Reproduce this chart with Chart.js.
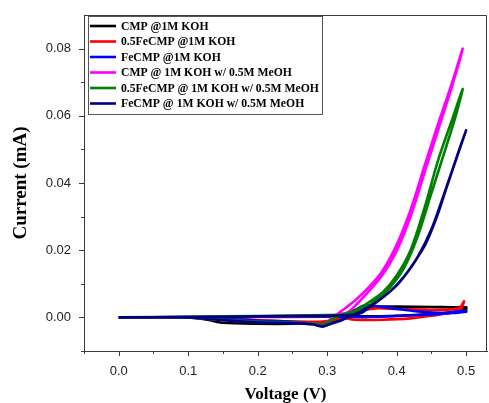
<!DOCTYPE html>
<html>
<head>
<meta charset="utf-8">
<script src="https://cdn.jsdelivr.net/npm/chart.js@4.4.1/dist/chart.umd.min.js"></script>
<style>
  html, body { margin: 0; padding: 0; background: #ffffff; }
  #wrap { width: 489px; height: 403px; position: relative; }
</style>
</head>
<body>
<div id="wrap"><canvas id="c" width="489" height="403"></canvas></div>
<script>
// ---- Data ----
const seriesNames = [
  "CMP @1M KOH",
  "0.5FeCMP @1M KOH",
  "FeCMP @1M KOH",
  "CMP @ 1M KOH w/ 0.5M MeOH",
  "0.5FeCMP @ 1M KOH w/ 0.5M MeOH",
  "FeCMP @ 1M KOH w/ 0.5M MeOH"
];
const seriesColors = ["#000000", "#ff0000", "#0000ff", "#ff00ff", "#008000", "#000080"];

// CMP @1M KOH (voltage V, current mA)
const cmpV = [0.00,0.05,0.10,0.15,0.20,0.25,0.30,0.33,0.36,0.40,0.45,0.48,0.50,0.50,0.48,0.45,0.40,0.36,0.35,0.34,0.33,0.32,0.31,0.29,0.25,0.20,0.15,0.13,0.11,0.10,0.05,0.00];
const cmpI = [0.0000,0.0000,0.0000,0.0001,0.0002,0.0003,0.0004,0.0004,0.0003,0.0005,0.0010,0.0015,0.0025,0.0030,0.0030,0.0031,0.0032,0.0032,0.0030,0.0022,0.0012,0.0002,-0.0008,-0.0016,-0.0019,-0.0019,-0.0016,-0.0008,-0.0002,0.0000,0.0000,0.0000];

// 0.5FeCMP @1M KOH
const feHalfV = [0.00,0.10,0.20,0.30,0.32,0.34,0.38,0.42,0.45,0.47,0.49,0.497,0.49,0.47,0.44,0.40,0.37,0.35,0.33,0.31,0.29,0.25,0.20,0.15,0.10,0.05,0.00];
const feHalfI = [0.0000,0.0000,0.0001,0.0002,0.0000,-0.0007,-0.0007,-0.0003,0.0005,0.0012,0.0020,0.0048,0.0028,0.0023,0.0023,0.0025,0.0027,0.0021,0.0006,-0.0008,-0.0013,-0.0012,-0.0009,-0.0004,0.0000,0.0000,0.0000];

// FeCMP @1M KOH
const feV = [0.00,0.10,0.20,0.30,0.33,0.36,0.40,0.45,0.48,0.50,0.50,0.47,0.44,0.41,0.38,0.36,0.35,0.34,0.33,0.32,0.305,0.293,0.28,0.25,0.20,0.15,0.12,0.10,0.05,0.00];
const feI = [0.0000,0.0001,0.0002,0.0003,0.0002,0.0001,0.0004,0.0009,0.0013,0.0017,0.0020,0.0014,0.0016,0.0023,0.0031,0.0036,0.0033,0.0018,0.0002,-0.0009,-0.0019,-0.0027,-0.0019,-0.0013,-0.0009,-0.0004,-0.0001,0.0000,0.0000,0.0000];

// CMP @ 1M KOH w/ 0.5M MeOH
const cmpMeV = [0.00,0.10,0.20,0.30,0.32,0.33,0.34,0.36,0.38,0.40,0.42,0.44,0.46,0.48,0.495,0.48,0.46,0.44,0.42,0.40,0.38,0.36,0.34,0.32,0.305,0.293,0.28,0.25,0.20,0.15,0.10,0.00];
const cmpMeI = [0.0000,0.0001,0.0003,0.0006,0.0010,0.0016,0.0034,0.0078,0.0128,0.0198,0.0300,0.0430,0.0560,0.0690,0.0800,0.0700,0.0578,0.0450,0.0320,0.0216,0.0140,0.0090,0.0050,0.0018,-0.0005,-0.0022,-0.0018,-0.0016,-0.0014,-0.0008,0.0000,0.0000];

// 0.5FeCMP @ 1M KOH w/ 0.5M MeOH
const feHalfMeV = [0.00,0.10,0.20,0.30,0.33,0.35,0.37,0.39,0.41,0.43,0.45,0.47,0.485,0.495,0.48,0.46,0.44,0.42,0.40,0.38,0.36,0.34,0.32,0.305,0.293,0.28,0.25,0.20,0.15,0.10,0.00];
const feHalfMeI = [0.0000,0.0002,0.0004,0.0007,0.0009,0.0022,0.0050,0.0088,0.0145,0.0240,0.0370,0.0500,0.0600,0.0680,0.0590,0.0470,0.0325,0.0200,0.0125,0.0075,0.0045,0.0020,0.0008,-0.0008,-0.0022,-0.0018,-0.0015,-0.0013,-0.0007,0.0000,0.0000];

// FeCMP @ 1M KOH w/ 0.5M MeOH
const feMeV = [0.00,0.10,0.20,0.30,0.33,0.35,0.36,0.38,0.40,0.42,0.44,0.45,0.46,0.47,0.48,0.49,0.50,0.49,0.47,0.45,0.43,0.41,0.39,0.37,0.35,0.33,0.31,0.293,0.28,0.25,0.20,0.15,0.10,0.00];
const feMeI = [0.0000,0.0001,0.0003,0.0005,0.0007,0.0014,0.0029,0.0059,0.0095,0.0148,0.0212,0.0258,0.0312,0.0375,0.0437,0.0497,0.0557,0.0499,0.0378,0.0262,0.0179,0.0120,0.0076,0.0044,0.0020,0.0000,-0.0015,-0.0027,-0.0021,-0.0017,-0.0015,-0.0008,0.0000,0.0000];

const seriesV = [cmpV, feHalfV, feV, cmpMeV, feHalfMeV, feMeV];
const seriesI = [cmpI, feHalfI, feI, cmpMeI, feHalfMeI, feMeI];

// Tick labels / tick positions
const xMajorTicks = [0.0, 0.1, 0.2, 0.3, 0.4, 0.5];
const xMinorTicks = [-0.05, 0.05, 0.15, 0.25, 0.35, 0.45];
const yMajorTicks = [0.00, 0.02, 0.04, 0.06, 0.08];
const yMinorTicks = [-0.01, 0.01, 0.03, 0.05, 0.07];

const xTitle = "Voltage (V)";
const yTitle = "Current (mA)";

// ---- Chart ----
const datasets = seriesNames.map((name, i) => ({
  label: name,
  data: seriesV[i].map((v, k) => ({ x: v, y: seriesI[i][k] })),
  borderColor: seriesColors[i],
  backgroundColor: seriesColors[i],
  borderWidth: 2.6,
  pointRadius: 0,
  showLine: true,
  tension: 0.3,
  fill: false,
  order: seriesNames.length - i
}));

const axisColor = "#3a3a3a";

const framePlugin = {
  id: "frameTicksLegend",
  afterDraw(chart) {
    const ctx = chart.ctx;
    const a = chart.chartArea;
    const xs = chart.scales.x, ys = chart.scales.y;
    ctx.save();
    // frame (top & right)
    ctx.strokeStyle = axisColor;
    ctx.lineWidth = 1;
    ctx.beginPath();
    ctx.moveTo(a.left, a.top + 0.5);
    ctx.lineTo(a.right - 0.5, a.top + 0.5);
    ctx.lineTo(a.right - 0.5, a.bottom);
    ctx.stroke();
    // ticks
    ctx.beginPath();
    xMajorTicks.forEach(v => { const p = Math.round(xs.getPixelForValue(v)) + 0.5; ctx.moveTo(p, a.bottom); ctx.lineTo(p, a.bottom + 5); });
    xMinorTicks.forEach(v => { const p = Math.round(xs.getPixelForValue(v)) + 0.5; ctx.moveTo(p, a.bottom); ctx.lineTo(p, a.bottom + 3); });
    yMajorTicks.forEach(v => { const p = Math.round(ys.getPixelForValue(v)) + 0.5; ctx.moveTo(a.left, p); ctx.lineTo(a.left - 5, p); });
    yMinorTicks.forEach(v => { const p = Math.round(ys.getPixelForValue(v)) + 0.5; ctx.moveTo(a.left, p); ctx.lineTo(a.left - 3, p); });
    ctx.stroke();

    // legend box
    const lx = 88, ly = 16, lw = 234, lh = 98;
    ctx.fillStyle = "#ffffff";
    ctx.fillRect(lx, ly, lw, lh);
    ctx.strokeStyle = "#555555";
    ctx.lineWidth = 1;
    ctx.strokeRect(lx + 0.5, ly + 0.5, lw, lh);
    ctx.font = "bold 11.7px 'Liberation Serif', 'Times New Roman', serif";
    ctx.textBaseline = "middle";
    ctx.textAlign = "left";
    seriesNames.forEach((name, i) => {
      const y = 26 + i * 15.5;
      ctx.strokeStyle = seriesColors[i];
      ctx.lineWidth = 2.6;
      ctx.beginPath();
      ctx.moveTo(90, y);
      ctx.lineTo(116, y);
      ctx.stroke();
      ctx.fillStyle = "#000000";
      ctx.fillText(name, 121, y + 0.5);
    });
    ctx.restore();
  }
};

new Chart(document.getElementById("c"), {
  type: "scatter",
  data: { datasets },
  options: {
    responsive: false,
    animation: false,
    devicePixelRatio: 1,
    layout: { padding: { left: 0, top: 15, right: 2, bottom: 0 } },
    plugins: { legend: { display: false }, tooltip: { enabled: false } },
    scales: {
      x: {
        type: "linear",
        min: -0.05,
        max: 0.53,
        afterBuildTicks(scale) { scale.ticks = xMajorTicks.map(v => ({ value: v })); },
        afterFit(scale) { scale.height = 52; },
        grid: { display: false },
        border: { display: true, color: axisColor, width: 1 },
        ticks: {
          padding: 5,
          color: "#222222",
          font: { family: "'Liberation Sans', Arial, sans-serif", size: 13 },
          callback: v => Number(v).toFixed(1)
        },
        title: {
          display: true,
          text: xTitle,
          color: "#000000",
          font: { family: "'Liberation Serif', 'Times New Roman', serif", size: 17, weight: "bold" },
          padding: { top: 0, bottom: -2 }
        }
      },
      y: {
        type: "linear",
        min: -0.01,
        max: 0.09,
        afterBuildTicks(scale) { scale.ticks = yMajorTicks.map(v => ({ value: v })); },
        afterFit(scale) { scale.width = 84; },
        grid: { display: false },
        border: { display: true, color: axisColor, width: 1 },
        ticks: {
          padding: 5,
          color: "#222222",
          font: { family: "'Liberation Sans', Arial, sans-serif", size: 13 },
          callback: v => Number(v).toFixed(2)
        },
        title: {
          display: true,
          text: yTitle,
          color: "#000000",
          font: { family: "'Liberation Serif', 'Times New Roman', serif", size: 19, weight: "bold" },
          padding: { top: 10, bottom: 0 }
        }
      }
    }
  },
  plugins: [framePlugin]
});
</script>
</body>
</html>
